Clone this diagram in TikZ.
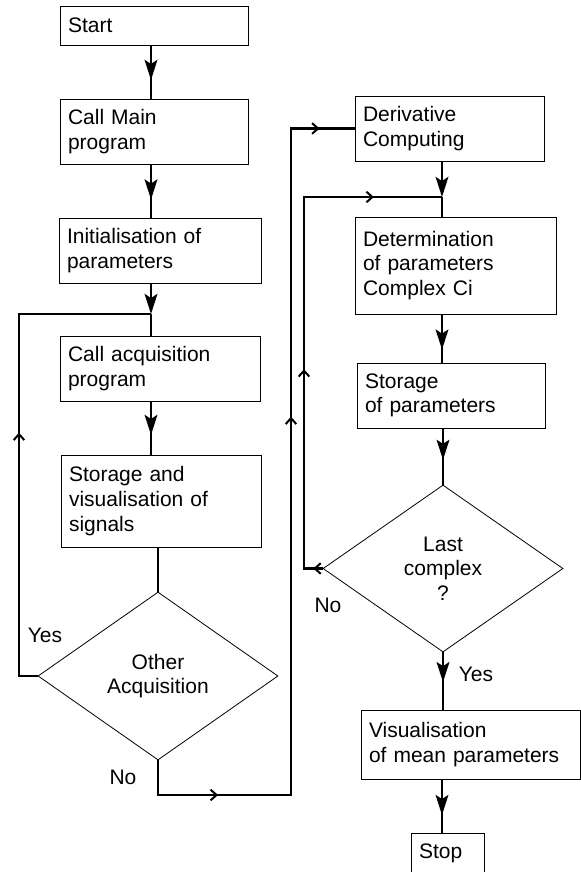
\documentclass[tikz,border=0pt]{standalone}
\usepackage{fontspec}
\setmainfont{Liberation Sans}
\usepackage{tikz}
\usetikzlibrary{shapes.geometric,arrows.meta,positioning,decorations.markings,calc}

\tikzset{
    chevron/.tip={Straight Barb[length=4.5pt,width=8pt,line width=1.5pt]},
    filltip/.tip={Stealth[length=15pt,width=9.5pt,inset=3pt]}
}

\begin{document}
\begin{tikzpicture}[
    x=0.75pt, y=-0.75pt,
    font=\fontsize{15.75}{18.5}\selectfont,
    box/.style={rectangle, draw, line width=0.6pt, align=left, inner xsep=6pt, inner ysep=0pt, text width=#1},
    decision/.style={diamond, draw, line width=0.6pt, align=center, inner sep=0pt, minimum width=180pt, minimum height=126pt},
    flow/.style={line width=2pt},
    arrow/.style={flow, postaction={decorate}, decoration={markings, mark=at position #1 with {\arrow{filltip}}}},
    arrow/.default=0.65,
    back/.style={flow, postaction={decorate}}
]
    \useasboundingbox (0,0) rectangle (581,872);

    % acquisition loop
    \node[box=129pt, minimum height=29.25pt] (start) at (154,25.5) {Start};
    \node[box=129pt, minimum height=48.75pt] (callmain) at (154,131.5) {Call Main\\program};
    \node[box=139.5pt, minimum height=48.75pt] (init) at (160,250.5) {Initialisation of\\parameters};
    \node[box=138pt, minimum height=48.75pt] (callacq) at (160,368.5) {Call acquisition\\program};
    \node[box=138pt, minimum height=69pt] (storsig) at (161,501) {Storage and\\visualisation of\\signals};
    \node[decision] (oa) at (158,676) {Other\\Acquisition};

    % processing loop
    \node[box=129.75pt, minimum height=48.75pt] (deriv) at (449.5,128.5) {Derivative\\Computing};
    \node[box=138.75pt, minimum height=72.75pt] (determ) at (455.5,265.5) {Determination\\of parameters\\Complex Ci};
    \node[box=129pt, minimum height=48.75pt] (storpar) at (451,395.5) {Storage\\of parameters};
    \node[decision, minimum height=125.25pt] (last) at (443,568.5) {Last\\complex\\?};
    \node[box=152.25pt, minimum height=51.75pt] (visu) at (470.5,744.5) {Visualisation\\of mean parameters};
    \node[box=42.75pt, minimum height=30.75pt] (stop) at (447.5,853.5) {Stop};

    % branch labels
    \node (yes1) at (45,635) {Yes};
    \node (no1) at (123,777.5) {No};
    \node (no2) at (328,605.5) {No};
    \node (yes2) at (476,674.5) {Yes};

    \coordinate (lc) at (151,0);
    \coordinate (j1) at (151,314);
    \coordinate (yl) at (19,676);
    \coordinate (nx) at (291,795);
    \coordinate (rc) at (442,0);
    \coordinate (j2) at (442,197);
    \coordinate (nl) at (304,197);

    \draw[arrow] (start.south -| lc) -- (callmain.north -| lc);
    \draw[arrow=0.66] (callmain.south -| lc) -- (init.north -| lc);
    \draw[flow, -{filltip}] (init.south -| lc) -- (j1);
    \draw[flow] (j1) -- (callacq.north -| lc);
    \draw[arrow=0.63] (callacq.south -| lc) -- (storsig.north -| lc);
    \draw[flow] (storsig.south -| oa.north) -- (oa.north);
    \draw[back, decoration={markings, mark=at position 196.5pt with {\arrow{chevron}}}]
        (oa.west) -- (yl) |- (j1);
    \draw[back, decoration={markings,
        mark=at position 71pt with {\arrow{chevron}},
        mark=at position 409.5pt with {\arrow{chevron}},
        mark=at position 647pt with {\arrow{chevron}}}]
        (oa.south) |- (nx) |- (deriv.west);

    \draw[flow, -{filltip}] (deriv.south -| rc) -- (j2);
    \draw[flow] (j2) -- (determ.north -| rc);
    \draw[arrow=0.73] (determ.south -| rc) -- (storpar.north -| rc);
    \draw[arrow=0.56] (storpar.south -| last.north) -- (last.north);
    \draw[arrow=0.52] (last.south) -- (visu.north -| last.south);
    \draw[arrow=0.67] (visu.south -| rc) -- (stop.north -| rc);
    \draw[back, decoration={markings,
        mark=at position 7pt with {\arrow{chevron}},
        mark=at position 163.5pt with {\arrow{chevron}},
        mark=at position 345pt with {\arrow{chevron}}}]
        (last.west) -| (nl) -- (j2);
\end{tikzpicture}
\end{document}
